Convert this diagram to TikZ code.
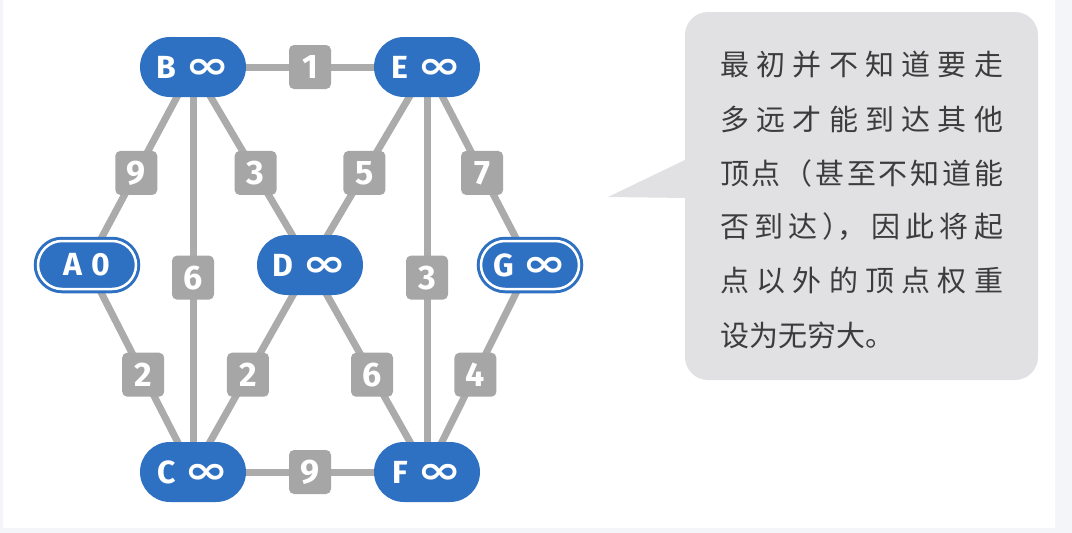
\documentclass[tikz,border=0pt]{standalone}
\usepackage{fontspec}
\usepackage{graphicx}
\setmainfont{Fira Sans}
\newfontfamily\cjk{Noto Sans CJK SC}
\newfontfamily\cjkhalt[RawFeature=+halt]{Noto Sans CJK SC}
\newfontfamily\symf{DejaVu Sans}
\usetikzlibrary{backgrounds}
\definecolor{nodeblue}{HTML}{2E70C2}
\definecolor{labelgray}{HTML}{A6A6A6}
\definecolor{edgegray}{HTML}{ABABAB}
\definecolor{bubblegray}{HTML}{E1E1E3}
\definecolor{outerbg}{HTML}{F4F5F8}
\definecolor{txtgray}{HTML}{3C3C3C}
\newcommand\infsym{{\symf\fontsize{38}{38}\selectfont\scalebox{1.4}[1]{∞}}}
\newcommand\hp[1]{{\cjkhalt #1}}
\newcommand\hf{\hfill}
\tikzset{
  vtx/.style={rectangle, rounded corners=30pt, fill=nodeblue, minimum width=106pt,
    minimum height=60pt, inner sep=0pt, text=white,
    font=\bfseries\fontsize{32}{32}\selectfont},
  vtxd/.style={vtx, draw=nodeblue, double=white, double distance=2.5pt, line width=3pt,
    minimum width=98pt, minimum height=48pt, rounded corners=24pt},
  wlabel/.style={rectangle, rounded corners=5pt, fill=labelgray, minimum width=42pt,
    minimum height=44pt, inner sep=0pt, text=white,
    font=\bfseries\fontsize{34}{34}\selectfont},
  conn/.style={line width=7pt, draw=edgegray},
  cjkline/.style={anchor=west, inner sep=0pt, text=txtgray,
    font=\cjk\fontsize{29}{29}\selectfont},
}
\begin{document}
\begin{tikzpicture}[x=1pt,y=-1pt]
\useasboundingbox (0,0) rectangle (1072,533);
% nodes
\node[vtx]  (B) at (193,67)  {B\hspace{9pt}\infsym};
\node[vtx]  (E) at (427,67)  {E\hspace{9pt}\infsym};
\node[vtxd] (A) at (87,265)  {A\hspace{9pt}0};
\node[vtx]  (D) at (310,265) {D\hspace{9pt}\infsym};
\node[vtxd] (G) at (530,265) {G\hspace{9pt}\infsym};
\node[vtx]  (C) at (193,472) {C\hspace{9pt}\infsym};
\node[vtx]  (F) at (427,472) {F\hspace{9pt}\infsym};
\begin{scope}[on background layer]
  \fill[outerbg] (0,0) rectangle (1072,533);
  \fill[white] (3,0) rectangle (1055,528);
  % speech bubble
  \fill[bubblegray, rounded corners=23pt] (685,12) rectangle (1038,380);
  \fill[bubblegray] (608,197) -- (687,159) -- (687,198) -- cycle;
  % edges
  \draw[conn] (B.center) -- node[wlabel,pos=.5]{1} (E.center);
  \draw[conn] (B.center) -- node[wlabel,pos=.535]{9} (A.center);
  \draw[conn] (B.center) -- node[wlabel,pos=.52]{6} (C.center);
  \draw[conn] (B.center) -- node[wlabel,pos=.535]{3} (D.center);
  \draw[conn] (E.center) -- node[wlabel,pos=.535]{5} (D.center);
  \draw[conn] (E.center) -- node[wlabel,pos=.535]{7} (G.center);
  \draw[conn] (E.center) -- node[wlabel,pos=.52]{3} (F.center);
  \draw[conn] (A.center) -- node[wlabel,pos=.53]{2} (C.center);
  \draw[conn] (D.center) -- node[wlabel,pos=.53]{2} (C.center);
  \draw[conn] (D.center) -- node[wlabel,pos=.53]{6} (F.center);
  \draw[conn] (G.center) -- node[wlabel,pos=.53]{4} (F.center);
  \draw[conn] (C.center) -- node[wlabel,pos=.5]{9} (F.center);
\end{scope}
% text
\node[cjkline] (t1) at (720,65)  {\makebox[283pt]{最\hf 初\hf 并\hf 不\hf 知\hf 道\hf 要\hf 走}};
\node[cjkline] (t2) at (720,119) {\makebox[283pt]{多\hf 远\hf 才\hf 能\hf 到\hf 达\hf 其\hf 他}};
\node[cjkline] (t3) at (720,173) {\makebox[283pt]{顶\hf 点\hf （\hf 甚\hf 至\hf 不\hf 知\hf 道\hf 能}};
\node[cjkline] (t4) at (720,227) {\makebox[283pt]{否\hf 到\hf 达\hf \hp{）}，\hf 因\hf 此\hf 将\hf 起}};
\node[cjkline] (t5) at (720,281) {\makebox[283pt]{点\hf 以\hf 外\hf 的\hf 顶\hf 点\hf 权\hf 重}};
\node[cjkline] (t6) at (720,335) {设为无穷大。};
\end{tikzpicture}
\end{document}
